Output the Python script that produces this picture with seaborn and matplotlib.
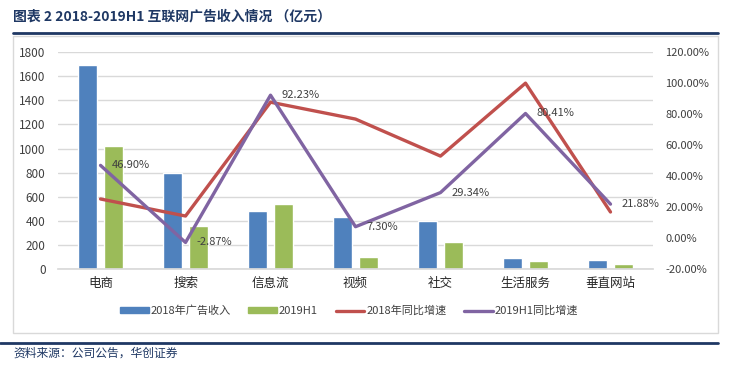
import pandas as pd
import seaborn as sns
import matplotlib.pyplot as plt
import numpy as np
from matplotlib.patches import Rectangle
from matplotlib.lines import Line2D
from matplotlib.ticker import FuncFormatter

# Data
categories = ["电商", "搜索", "信息流", "视频", "社交", "生活服务", "垂直网站"]
rev_2018 = [1692, 796, 481, 431, 398, 95, 75]
rev_2019h1 = [1018, 357, 539, 100, 224, 66, 41]
growth_2018 = [25.2, 14.2, 87.7, 76.8, 52.9, 100.0, 16.8]
growth_2019h1 = [46.90, -2.87, 92.23, 7.30, 29.34, 80.41, 21.88]

series_names = ["2018年广告收入", "2019H1", "2018年同比增速", "2019H1同比增速"]
colors = ["#4F81BD", "#9BBB59", "#C0504D", "#8064A2"]

sns.set_theme(style="white")
plt.rcParams["font.family"] = ["Noto Sans CJK SC", "DejaVu Sans"]

bars = pd.DataFrame({
    "cat": categories * 2,
    "val": rev_2018 + rev_2019h1,
    "series": [series_names[0]] * 7 + [series_names[1]] * 7,
})

fig = plt.figure(figsize=(7.3, 3.7), dpi=100)
ax = fig.add_axes([0.0795, 0.273, 0.815, 0.586])

sns.barplot(data=bars, x="cat", y="val", hue="series", palette=colors[:2],
            width=0.6, gap=0.25, ax=ax, legend=False, saturation=1)
ax.set_ylim(0, 1800)
ax.set_yticks(np.arange(0, 1801, 200))
ax.set_xlim(-0.5, 6.5)
ax.set_xlabel("")
ax.set_ylabel("")
ax.yaxis.grid(True, color="#D9D9D9", linewidth=1)
ax.set_axisbelow(True)
for s in ["top", "right", "left"]:
    ax.spines[s].set_visible(False)
ax.spines["bottom"].set_color("#D9D9D9")
ax.tick_params(axis="y", labelsize=8.5, colors="#404040", length=0, pad=9)
ax.tick_params(axis="x", labelsize=9, colors="#262626", length=0, pad=6)

ax2 = ax.twinx()
xs = np.arange(len(categories))
sns.lineplot(x=xs, y=growth_2018, color=colors[2], linewidth=2.4, ax=ax2)
sns.lineplot(x=xs, y=growth_2019h1, color=colors[3], linewidth=2.4, ax=ax2)
ax2.set_ylim(-20, 120)
ax2.set_yticks(np.arange(-20, 121, 20))
ax2.yaxis.set_major_formatter(FuncFormatter(lambda v, p: f"{v:.2f}%"))
ax2.tick_params(axis="y", labelsize=8, colors="#404040", length=0, pad=9)
for s in ["top", "right", "left", "bottom"]:
    ax2.spines[s].set_visible(False)
ax2.grid(False)

for x, v in zip(xs, growth_2019h1):
    ax2.annotate(f"{v:.2f}%", (x, v), xytext=(8, 0), textcoords="offset points",
                 ha="left", va="center", fontsize=8, color="#404040")

handles = [
    Rectangle((0, 0), 1, 1, color=colors[0]),
    Rectangle((0, 0), 1, 1, color=colors[1]),
    Line2D([0], [0], color=colors[2], linewidth=2.4),
    Line2D([0], [0], color=colors[3], linewidth=2.4),
]
fig.legend(handles, series_names, loc="center", bbox_to_anchor=(0.478, 0.16),
           ncol=4, frameon=False, fontsize=8, handlelength=2.6, handleheight=0.5,
           columnspacing=1.6, handletextpad=0.15, labelcolor="#404040")

# chart frame, header and footer
fig.patches.append(Rectangle((0.018, 0.10), 0.966, 0.803, transform=fig.transFigure,
                             fill=False, edgecolor="#D9D9D9", linewidth=1))
fig.add_artist(Line2D([0.018, 0.984], [0.912, 0.912], color="#1F3864", linewidth=2,
                      transform=fig.transFigure))
fig.add_artist(Line2D([0.0, 0.984], [0.073, 0.073], color="#1F3864", linewidth=2,
                      transform=fig.transFigure))
fig.text(0.018, 0.955, "图表 2 2018-2019H1 互联网广告收入情况 （亿元）", fontsize=10,
         fontweight="bold", color="#1F3864", va="center", ha="left")
fig.text(0.018, 0.045, "资料来源：公司公告，华创证券", fontsize=8.5,
         color="#1F3864", va="center", ha="left", style="italic")

fig.savefig("out.png", dpi=100)
